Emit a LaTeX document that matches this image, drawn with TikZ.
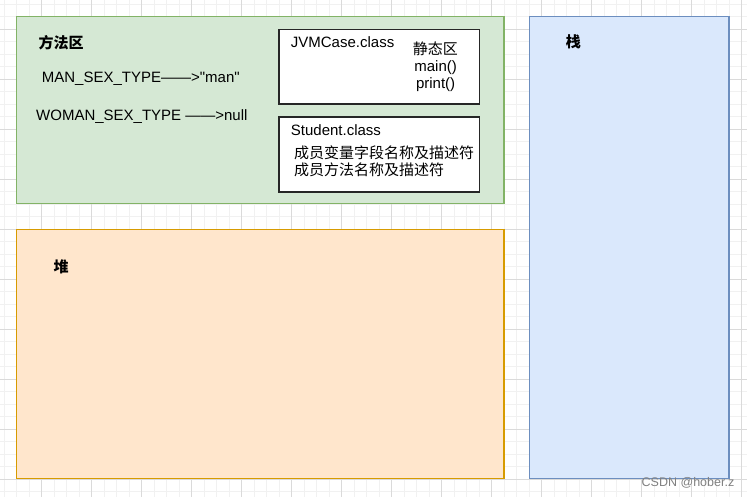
\documentclass[tikz,border=0pt]{standalone}
\usepackage{fontspec}
\setmainfont{Liberation Sans}[Ligatures=TeXOff]
\newfontfamily\cjk{Noto Sans CJK SC}
\definecolor{gfill}{HTML}{D5E8D4}
\definecolor{gline}{HTML}{82B366}
\definecolor{ofill}{HTML}{FFE6CC}
\definecolor{oline}{HTML}{D79B00}
\definecolor{bfill}{HTML}{DAE8FC}
\definecolor{bline}{HTML}{6C8EBF}
\definecolor{minorc}{HTML}{F1F1F1}
\definecolor{majorc}{HTML}{DADADA}
\begin{document}
\begin{tikzpicture}[x=1pt,y=-1pt,
  minorgrid/.style={draw=minorc,line width=0.9pt},
  majorgrid/.style={draw=majorc,line width=1pt},
  area/.style={line width=1.3pt},
  classbox/.style={draw=black!85,fill=white,line width=1.3pt},
  txt/.style={inner sep=0pt,font=\fontsize{15}{18}\selectfont},
  cjktxt/.style={inner sep=0pt,font=\fontsize{15}{18}\selectfont\cjk},
  title/.style={inner sep=0pt,font=\fontsize{15}{18}\selectfont\cjk\bfseries}]
\useasboundingbox (0,0) rectangle (747,497);
\fill[white] (0,0) rectangle (747,497);
% grid
\foreach \i in {0,...,59} \draw[minorgrid] ({4.1+12.5*\i},0) -- ({4.1+12.5*\i},497);
\foreach \i in {0,...,39} \draw[minorgrid] (0,{4.3+12.5*\i}) -- (747,{4.3+12.5*\i});
\foreach \i in {0,...,14} \draw[majorgrid] ({41.6+50*\i},0) -- ({41.6+50*\i},497);
\foreach \i in {0,...,9} \draw[majorgrid] (0,{29.3+50*\i}) -- (747,{29.3+50*\i});
% areas
\draw[area,fill=gfill,draw=gline] (16.5,16.5) rectangle (504,203.5);
\draw[area,fill=ofill,draw=oline] (16.5,229.5) rectangle (504,478.5);
\draw[area,fill=bfill,draw=bline] (529.5,16.5) rectangle (729,478.5);
% class boxes
\draw[classbox] (279,29.5) rectangle (479.3,104);
\draw[classbox] (279,117) rectangle (479.3,192);
% texts
\node[title,anchor=west] (ff) at (38.3,43) {方法区};
\node[txt,anchor=west] (man) at (41.7,78.5) {MAN\_SEX\_TYPE——>"man"};
\node[txt,anchor=west] (woman) at (36,116.5) {WOMAN\_SEX\_TYPE ——>null};
\node[txt,anchor=west] (jvm) at (290.7,41.7) {JVMCase.class};
\node[cjktxt] (static) at (435.4,48.3) {静态区};
\node[txt] (mainf) at (435.6,67.7) {main()};
\node[txt] (printf) at (435.6,84.3) {print()};
\node[txt,anchor=west] (stu) at (290.7,130) {Student.class};
\node[cjktxt,anchor=west] (fields) at (294,152.3) {成员变量字段名称及描述符};
\node[cjktxt,anchor=west] (methods) at (294,170) {成员方法名称及描述符};
\node[title,anchor=west] (zhan) at (565.7,42.3) {栈};
\node[title,anchor=west] (dui) at (53.3,266.7) {堆};
\node[inner sep=0pt,anchor=west,text=black!50,font=\fontsize{12.5}{14}\selectfont] (wm) at (641.5,482.7) {CSDN @hober.z};
\end{tikzpicture}
\end{document}
